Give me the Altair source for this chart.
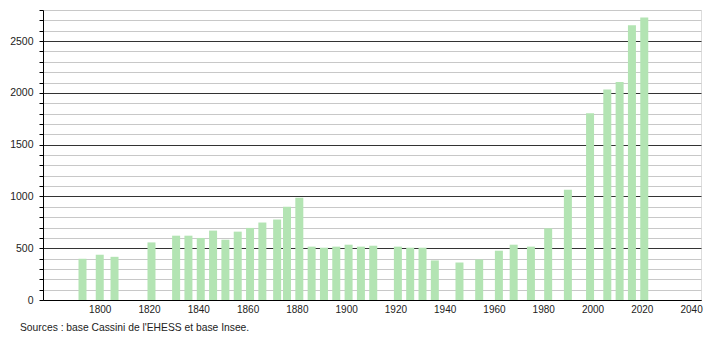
import altair as alt
import pandas as pd

years = [1793, 1800, 1806, 1821, 1831, 1836, 1841, 1846, 1851, 1856, 1861, 1866,
         1872, 1876, 1881, 1886, 1891, 1896, 1901, 1906, 1911, 1921, 1926, 1931,
         1936, 1946, 1954, 1962, 1968, 1975, 1982, 1990, 1999, 2006, 2011, 2016, 2021]
population = [398, 437, 417, 556, 621, 621, 599, 670, 582, 660, 696, 748,
              777, 900, 987, 515, 505, 515, 534, 515, 524, 515, 505, 505,
              382, 362, 391, 476, 534, 515, 692, 1065, 1803, 2032, 2104, 2653, 2728]
x_ticks = [1800, 1820, 1840, 1860, 1880, 1900, 1920, 1940, 1960, 1980, 2000, 2020, 2040]
y_ticks = list(range(0, 2801, 100))
source = "Sources : base Cassini de l'EHESS et base Insee."

df = pd.DataFrame({"year": years, "pop": population})

FONT = "Liberation Sans"

chart = alt.Chart(df).mark_bar(size=8, color="#b3e4b3").encode(
    x=alt.X("year:Q",
            scale=alt.Scale(domain=[1779, 2042], nice=False, zero=False),
            axis=alt.Axis(values=x_ticks, format="d", title=None, grid=False,
                          ticks=False, labelPadding=4, labelFontSize=10,
                          labelFont=FONT, labelColor="#222", domainColor="#000",
                          labelFlush=False)),
    y=alt.Y("pop:Q",
            scale=alt.Scale(domain=[0, 2800], nice=False),
            axis=alt.Axis(values=y_ticks, format="d", title=None,
                          labelExpr="datum.value % 500 === 0 ? datum.label : ''",
                          gridColor=alt.condition("datum.value % 500 === 0",
                                                  alt.value("#333333"), alt.value("#c8c8c8")),
                          tickSize=4, tickColor="#000", labelPadding=6,
                          labelFontSize=10.5, labelFont=FONT, labelColor="#222",
                          domainColor="#000")),
).properties(
    width=658, height=290,
    title=alt.TitleParams(text=source, orient="bottom", anchor="start",
                          frame="group", fontSize=10.3, font=FONT,
                          fontWeight="normal", color="#222", dx=-23, offset=9),
    autosize=alt.AutoSizeParams(type="none"),
    padding={"left": 43, "top": 10, "right": 9, "bottom": 40},
).configure_view(stroke=None).configure(background="white")

chart.save("out.html", embed_options={"renderer": "svg", "actions": False})
